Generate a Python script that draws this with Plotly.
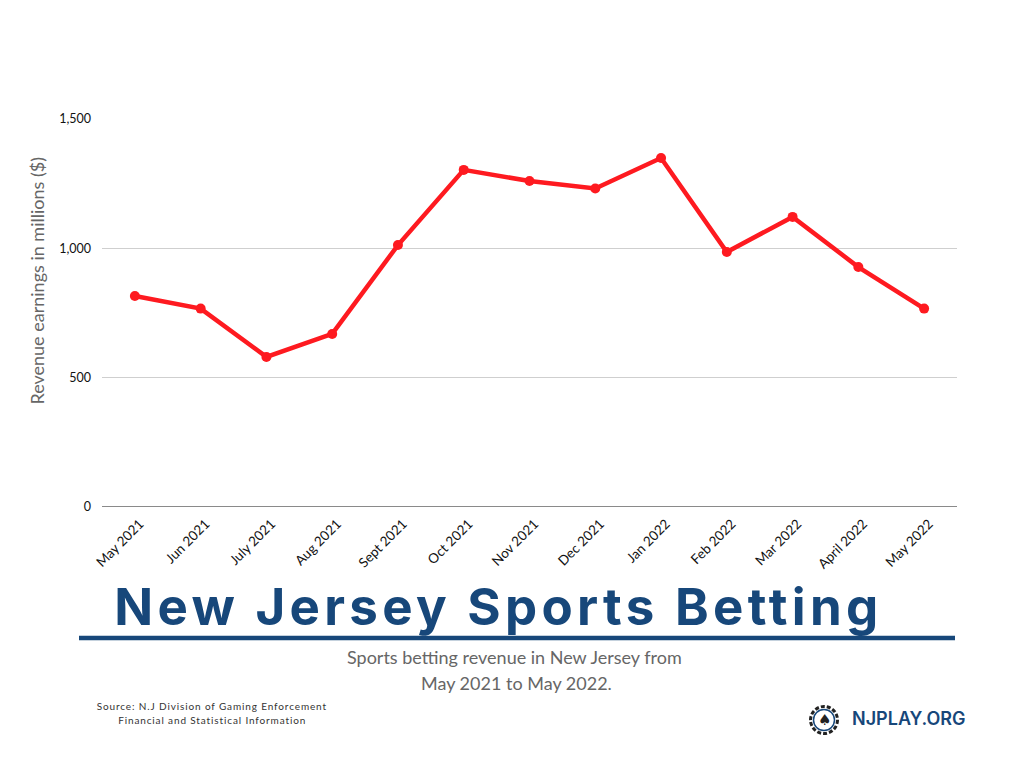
import plotly.graph_objects as go

months = ["May 2021", "Jun 2021", "July 2021", "Aug 2021", "Sept 2021", "Oct 2021", "Nov 2021",
          "Dec 2021", "Jan 2022", "Feb 2022", "Mar 2022", "April 2022", "May 2022"]
revenue = [815, 766, 579, 668, 1012, 1303, 1260, 1231, 1349, 985, 1121, 927, 766]
y_ticks = [0, 500, 1000, 1500]
y_tick_labels = ["0", "500", "1,000", "1,500"]

W, H = 1024, 768
BLUE = "#17477a"
px = lambda v: v / W
py = lambda v: 1 - v / H

fig = go.Figure(go.Scatter(
    x=months, y=revenue, mode="lines+markers",
    line=dict(color="#fe1a20", width=4.5),
    marker=dict(color="#fe1a20", size=10),
    hoverinfo="x+y"))

annotations = [
    dict(text="New Jersey Sports Betting", x=px(498.5), y=py(606), font=dict(family="Inter", size=51, color=BLUE, weight=700)),
    dict(text="Sports betting revenue in New Jersey from", x=px(514.5), y=py(656.5), font=dict(family="Lato", size=18, color="#666666")),
    dict(text="May 2021 to May 2022.", x=px(516.5), y=py(682.5), font=dict(family="Lato", size=18, color="#666666")),
    dict(text="Source: N.J Division of Gaming Enforcement", x=px(212), y=py(706), font=dict(family="Lato", size=10, color="#333333")),
    dict(text="Financial and Statistical Information", x=px(212), y=py(720), font=dict(family="Lato", size=10, color="#333333")),
    dict(text="NJPLAY.ORG", x=px(908), y=py(718.5), font=dict(family="Inter", size=18, color=BLUE, weight=600)),
    dict(text="♠", x=px(824), y=py(720), font=dict(family="DejaVu Sans", size=15, color="#222222")),
    dict(text="Revenue earnings in millions ($)", x=px(36), y=py(280.5), textangle=-90, font=dict(family="Lato", size=18, color="#666666")),
]
for a in annotations:
    a.update(xref="paper", yref="paper", showarrow=False, xanchor="center", yanchor="middle")

shapes = [
    dict(type="line", xref="paper", yref="paper", x0=px(79), x1=px(955), y0=py(638), y1=py(638),
         line=dict(color=BLUE, width=4.5)),
    dict(type="circle", xref="paper", yref="paper", x0=px(810.5), x1=px(837.5), y0=py(733.5), y1=py(706.5),
         line=dict(color="#222222", width=3, dash="4px 2px")),
    dict(type="circle", xref="paper", yref="paper", x0=px(813.5), x1=px(834.5), y0=py(730.5), y1=py(709.5),
         line=dict(color=BLUE, width=1.5)),
]

fig.update_layout(
    width=W, height=H, margin=dict(l=0, r=0, t=0, b=0),
    paper_bgcolor="white", plot_bgcolor="white", showlegend=False,
    font=dict(family="Lato", color="#111111"),
    annotations=annotations, shapes=shapes,
    xaxis=dict(domain=[px(102), px(957)], type="category", tickangle=-45, showgrid=False,
               ticks="", showline=False, zeroline=False, tickfont=dict(size=13.5, color="#111111"),
               range=[-0.5, 12.5], automargin=False, ticklabelstandoff=6, ticklabelshift=5),
    yaxis=dict(domain=[py(506.5), py(119)], range=[0, 1500], tickvals=y_ticks, ticktext=y_tick_labels,
               gridcolor="#cfcfcf", gridwidth=1, zeroline=True, zerolinecolor="#8a8a8a", zerolinewidth=1.2,
               showline=False, ticks="", tickfont=dict(size=12.5, color="#111111"), automargin=False,
               ticklabelstandoff=10),
)

post = """
document.body.style.margin = '0';
document.querySelectorAll('.annotation-text').forEach(function (t) {
  var s = t.textContent;
  if (s.indexOf('New Jersey') === 0) t.style.letterSpacing = '4.3px';
  if (s.indexOf('Source') === 0 || s.indexOf('Financial') === 0) t.style.letterSpacing = '0.87px';
});
"""
fig.write_html("out.html", post_script=post, config=dict(displayModeBar=False))
